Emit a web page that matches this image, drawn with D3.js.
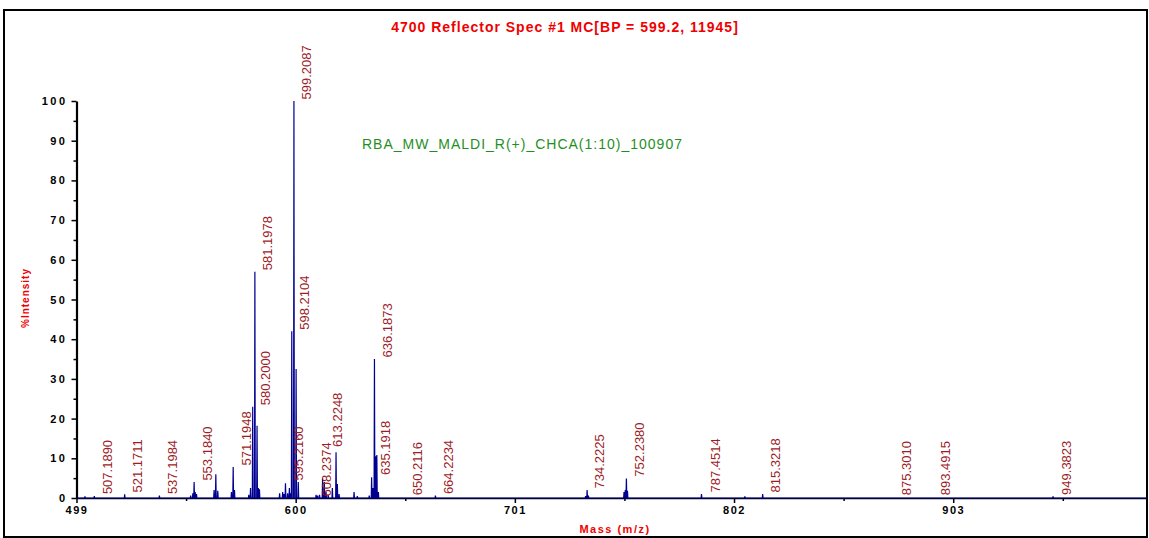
<!DOCTYPE html>
<html>
<head>
<meta charset="utf-8">
<script src="https://cdn.jsdelivr.net/npm/d3@7"></script>
<style>
  body { margin: 0; background: #fff; }
  svg { display: block; font-family: "Liberation Sans", Arial, sans-serif; }
</style>
</head>
<body>
<svg width="1149" height="538"></svg>
<script>
// Axis ticks
const xTicks = [499, 600, 701, 802, 903];
const xMinorTicks = [549.5, 650.5, 751.5, 852.5, 953.5];
const yTicks = [0, 10, 20, 30, 40, 50, 60, 70, 80, 90, 100];
const yMinorTicks = [5, 15, 25, 35, 45, 55, 65, 75, 85, 95];

// Peaks (m/z, % intensity)
const peakMz = [502.9, 507.2, 521.2, 537.2,
  551.6, 552.6, 553.2, 553.7, 554.3,
  562.4, 563.2, 564.1, 570.4, 571.2, 571.8,
  578.4, 579.2, 580.2, 581.2, 582.2, 582.8, 583.3,
  592.6, 594.0, 594.6, 595.3, 596.3, 597.1, 597.6, 598.2, 599.2, 600.2, 601.2,
  609.4, 610.1, 611.0, 612.4, 613.2, 614.0, 615.0, 616.9, 618.6, 619.2, 620.0,
  626.9, 628.4, 633.9, 635.0, 635.6, 636.3, 636.9, 637.4, 638.1,
  664.4, 733.6, 734.3, 734.9, 751.3, 751.9, 752.4, 752.9,
  787.0, 807.0, 815.2, 949.0];
const peakPct = [0.4, 0.5, 0.9, 0.6,
  0.6, 1.2, 4.0, 1.5, 1.0,
  2.0, 6.0, 1.8, 1.5, 7.8, 2.0,
  0.8, 2.5, 23, 57, 18.2, 2.5, 2.2,
  1.2, 1.5, 1.0, 3.7, 1.2, 2.5, 1.2, 42, 100, 32.5, 4.0,
  0.8, 0.6, 0.8, 5.0, 4.0, 1.5, 0.8, 2.5, 11.5, 3.5, 1.0,
  1.5, 0.5, 0.6, 5.2, 2.5, 35, 10.5, 10.8, 1.5,
  0.6, 0.5, 2.0, 0.6, 1.5, 2.0, 4.9, 1.8,
  1.0, 0.4, 1.0, 0.4];

// Peak labels and the intensity level they sit on
const labelText = ["507.1890", "521.1711", "537.1984", "553.1840", "571.1948",
  "580.2000", "581.1978", "595.2160", "598.2104", "599.2087", "608.2374",
  "613.2248", "635.1918", "636.1873", "650.2116", "664.2234", "734.2225",
  "752.2380", "787.4514", "815.3218", "875.3010", "893.4915", "949.3823"];
const labelLevel = [0.6, 1.0, 0.6, 4.0, 7.8,
  23, 57, 4.0, 42, 100, 0,
  12.5, 5.4, 35, 0.3, 0.6, 2.0,
  5.0, 1.0, 1.0, 0.3, 0.3, 0.4];

const svg = d3.select("svg");

// frame
svg.append("rect")
  .attr("x", 4).attr("y", 10)
  .attr("width", 1143).attr("height", 527)
  .attr("fill", "none").attr("stroke", "#000").attr("stroke-width", 2);

const x = d3.scaleLinear().domain([499, 992.3]).range([76.5, 1147]);
const y = d3.scaleLinear().domain([0, 100]).range([498, 101]);

// spectrum profile
const pts = [[499, 0]];
peakMz.forEach((m, i) => {
  pts.push([m - 0.18, 0], [m, peakPct[i]], [m + 0.18, 0]);
});
pts.push([992.3, 0]);
pts.sort((a, b) => a[0] - b[0]);

// x axis
const xAxis = svg.append("g")
  .attr("transform", `translate(0,${y(0)})`)
  .call(d3.axisBottom(x).tickValues(xTicks).tickSize(5).tickSizeOuter(0).tickPadding(3));
xAxis.select(".domain").attr("stroke-width", 1.5);
xAxis.selectAll(".tick line").attr("stroke-width", 1.5);
xAxis.selectAll("text")
  .style("font-size", "11px").style("font-weight", "bold")
  .style("letter-spacing", "1.5px").attr("fill", "#000");
svg.append("g")
  .attr("transform", `translate(0,${y(0)})`)
  .call(d3.axisBottom(x).tickValues(xMinorTicks).tickSize(3).tickFormat(""))
  .call(g => g.select(".domain").remove())
  .selectAll(".tick line").attr("stroke-width", 1.5);

// y axis
const yAxis = svg.append("g")
  .attr("transform", `translate(${x(499)},0)`)
  .call(d3.axisLeft(y).tickValues(yTicks).tickSize(5).tickSizeOuter(0).tickPadding(4));
yAxis.select(".domain").attr("stroke-width", 2.2);
yAxis.selectAll(".tick line").attr("stroke-width", 1.5);
yAxis.selectAll("text")
  .style("font-size", "11px").style("font-weight", "bold")
  .style("letter-spacing", "2.5px").attr("fill", "#000");
svg.append("g")
  .attr("transform", `translate(${x(499)},0)`)
  .call(d3.axisLeft(y).tickValues(yMinorTicks).tickSize(3).tickFormat(""))
  .call(g => g.select(".domain").remove())
  .selectAll(".tick line").attr("stroke-width", 1.5);

svg.append("path")
  .datum(pts)
  .attr("d", d3.line().x(d => x(d[0])).y(d => y(d[1])))
  .attr("fill", "none")
  .attr("stroke", "#000090")
  .attr("stroke-width", 1.2);

// peak labels
svg.selectAll("text.peak")
  .data(labelText)
  .enter()
  .append("text")
  .attr("class", "peak")
  .attr("transform", (d, i) => `translate(${x(+d) + 17.5},${y(labelLevel[i]) - 1.5}) rotate(-90)`)
  .attr("fill", "#9c1c28")
  .style("font-size", "13px")
  .text(d => d);

// titles
svg.append("text")
  .attr("x", 565).attr("y", 32)
  .attr("text-anchor", "middle")
  .attr("fill", "#f00000")
  .style("font-size", "14px").style("font-weight", "bold")
  .style("letter-spacing", "1px")
  .text("4700 Reflector Spec #1 MC[BP = 599.2, 11945]");

svg.append("text")
  .attr("x", 362).attr("y", 149)
  .attr("fill", "#1f8f1f")
  .style("font-size", "14px")
  .style("letter-spacing", "1px")
  .text("RBA_MW_MALDI_R(+)_CHCA(1:10)_100907");

svg.append("text")
  .attr("transform", "translate(29,298) rotate(-90)")
  .attr("text-anchor", "middle")
  .attr("fill", "#f00000")
  .style("font-size", "10px").style("font-weight", "bold")
  .style("letter-spacing", "1px")
  .text("%Intensity");

svg.append("text")
  .attr("x", 615).attr("y", 533)
  .attr("text-anchor", "middle")
  .attr("fill", "#f00000")
  .style("font-size", "11px").style("font-weight", "bold")
  .style("letter-spacing", "1.5px")
  .text("Mass (m/z)");
</script>
</body>
</html>
